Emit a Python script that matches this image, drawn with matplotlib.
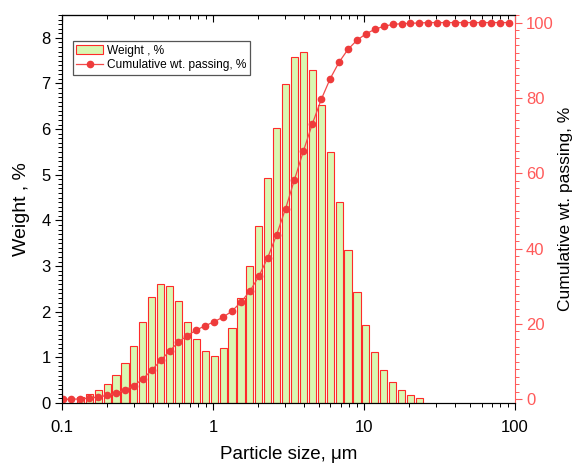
import numpy as np
import matplotlib
matplotlib.use("Agg")
from matplotlib import pyplot as plt
from matplotlib.ticker import MultipleLocator, LogLocator, NullFormatter
from matplotlib.patches import Patch
from matplotlib.lines import Line2D

plt.rcParams['font.family'] = ['Liberation Sans', 'DejaVu Sans']

# particle size classes, um
sizes = [0.1008, 0.1155, 0.1323, 0.1516, 0.1737, 0.199, 0.228, 0.2612, 0.2993, 0.3429,
         0.3929, 0.4502, 0.5158, 0.591, 0.6771, 0.7758, 0.8889, 1.0185, 1.1669, 1.337,
         1.5318, 1.7551, 2.0109, 2.304, 2.6398, 3.0246, 3.4654, 3.9705, 4.5491, 5.2122,
         5.9718, 6.8422, 7.8395, 8.9821, 10.2912, 11.7912, 13.5097, 15.4787, 17.7347, 20.3196,
         23.2809, 26.6741, 30.5617, 35.016, 40.1195, 45.9668, 52.6664, 60.342, 69.1367, 79.2132,
         90.7582]

# weight %, one per size class (first 41 classes)
weight = [0.0, 0.0, 0.13, 0.20, 0.28, 0.42, 0.61, 0.88, 1.26, 1.78,
          2.32, 2.61, 2.57, 2.23, 1.78, 1.41, 1.15, 1.04, 1.21, 1.64,
          2.30, 3.00, 3.87, 4.93, 6.03, 6.98, 7.57, 7.68, 7.29, 6.52,
          5.50, 4.41, 3.36, 2.44, 1.70, 1.12, 0.72, 0.46, 0.28, 0.17,
          0.10]

# cumulative wt. passing, %
cum_passing = [0.0, 0.0, 0.1, 0.3, 0.6, 1.0, 1.6, 2.5, 3.6, 5.4,
               7.7, 10.3, 12.8, 15.2, 16.9, 18.4, 19.5, 20.6, 21.8, 23.4,
               25.8, 28.7, 32.6, 37.6, 43.7, 50.6, 58.3, 65.9, 73.1, 79.6,
               85.1, 89.5, 92.9, 95.3, 97.0, 98.2, 99.0, 99.5, 99.7, 99.8,
               99.9, 100, 100, 100, 100, 100, 100, 100, 100, 100,
               100]

bar_face = '#D9F7B2'
bar_edge = '#FF2A2A'
line_red = '#F24A4A'
marker_red = '#EE3B3B'
axis_red = '#FF5A5A'

fig = plt.figure(figsize=(5.76, 4.65), dpi=100)
ax = fig.add_axes([0.1076, 0.1333, 0.7865, 0.8344])

# bars on log axis: 80% of the log-bin width, centred on each size
ratio = sizes[1] / sizes[0]
centers = np.array(sizes[:len(weight)])
heights = np.array(weight)
keep = heights > 0
left = centers[keep] / ratio ** 0.4
right = centers[keep] * ratio ** 0.4
ax.bar(left, heights[keep], width=right - left, align='edge',
       facecolor=bar_face, edgecolor=bar_edge, linewidth=0.8)

ax.set_xscale('log')
ax.set_xlim(0.1, 100)
ax.set_ylim(0, 8.5)
ax.set_xticks([0.1, 1, 10, 100])
ax.set_xticklabels(['0.1', '1', '10', '100'])
ax.xaxis.set_minor_locator(LogLocator(base=10, subs=np.arange(2, 10)))
ax.xaxis.set_minor_formatter(NullFormatter())
ax.yaxis.set_major_locator(MultipleLocator(1))
ax.yaxis.set_minor_locator(MultipleLocator(0.1))
ax.tick_params(axis='both', which='major', direction='out', length=5, width=0.8,
               labelsize=12, pad=3)
ax.tick_params(axis='both', which='minor', direction='out', length=3, width=0.7)
ax.tick_params(axis='x', pad=7)
ax.spines['right'].set_visible(False)
ax.set_xlabel('Particle size, \u03bcm', fontsize=13.5, labelpad=8)
ax.set_ylabel('Weight , %', fontsize=14, labelpad=8)

top = ax.secondary_xaxis('top')
top.set_xticks([0.1, 1, 10, 100])
top.xaxis.set_minor_locator(LogLocator(base=10, subs=np.arange(2, 10)))
top.xaxis.set_minor_formatter(NullFormatter())
top.tick_params(axis='x', which='major', direction='in', length=5, width=0.8, labeltop=False)
top.tick_params(axis='x', which='minor', direction='in', length=3, width=0.7)

ax2 = ax.twinx()
ax2.plot(sizes, cum_passing, '-', color=line_red, linewidth=0.9,
         marker='o', markersize=4.5, markerfacecolor=marker_red, markeredgecolor=marker_red)
ax2.set_ylim(-1, 102)
ax2.yaxis.set_major_locator(MultipleLocator(20))
ax2.yaxis.set_minor_locator(MultipleLocator(2))
ax2.tick_params(axis='y', which='major', direction='out', length=5, width=0.8,
                labelsize=12, colors=axis_red, pad=3)
ax2.tick_params(axis='y', which='minor', direction='out', length=3, width=0.7, colors=axis_red)
ax2.spines['right'].set_color(axis_red)
ax2.set_ylabel('Cumulative wt. passing, %', fontsize=12.5, labelpad=3)

handles = [Patch(facecolor=bar_face, edgecolor=bar_edge, linewidth=0.8),
           Line2D([], [], color=line_red, linewidth=0.9, marker='o', markersize=4.5,
                  markerfacecolor=marker_red, markeredgecolor=marker_red)]
leg = ax2.legend(handles, ['Weight , %', 'Cumulative wt. passing, %'],
                 loc='upper left', bbox_to_anchor=(0.024, 0.933), fontsize=8.6,
                 frameon=True, fancybox=False, edgecolor='#555555', framealpha=1,
                 borderpad=0.3, labelspacing=0.2, handlelength=2.25, handletextpad=0.3,
                 borderaxespad=0)
leg.get_frame().set_linewidth(0.9)

fig.savefig('out.png', dpi=100)
